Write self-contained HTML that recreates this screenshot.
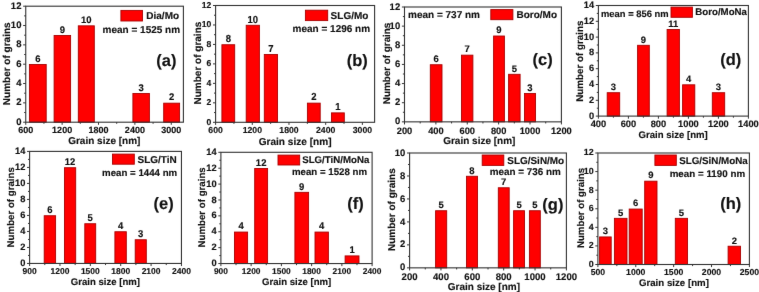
<!DOCTYPE html>
<html><head><meta charset="utf-8"><style>
html,body{margin:0;padding:0;background:#fff;}
body{width:759px;height:292px;overflow:hidden;}
svg{display:block;}

.t{fill:#111;stroke:#111;}
text.t{font-family:"Liberation Sans",sans-serif;font-weight:bold;stroke-width:0.15px;}
.bar{fill:#f00;stroke:#a80000;stroke-width:0.9;}
.fr{fill:none;stroke:#333;stroke-width:1.1;}
.tk{fill:none;stroke:#333;stroke-width:1;}
</style></head><body>
<svg width="759" height="292" viewBox="0 0 759 292">
<filter id="bl" x="0" y="0" width="759" height="292" filterUnits="userSpaceOnUse" color-interpolation-filters="sRGB"><feConvolveMatrix order="3" kernelMatrix="0.00276 0.04704 0.00276 0.04704 0.80077 0.04704 0.00276 0.04704 0.00276" edgeMode="duplicate"/></filter>
<defs></defs>
<g filter="url(#bl)">
<rect width="759" height="292" fill="#fff"/>
<rect x="29.4" y="64.5" width="16.8" height="57.7" class="bar"/>
<text class="t" transform="translate(37.8 61.8) skewX(0.1)" font-size="9.5" text-anchor="middle">6</text>
<rect x="54.1" y="35.5" width="16.5" height="86.7" class="bar"/>
<text class="t" transform="translate(62.35 32.8) skewX(0.1)" font-size="9.5" text-anchor="middle">9</text>
<rect x="78.3" y="25.83" width="16" height="96.37" class="bar"/>
<text class="t" transform="translate(86.3 23.13) skewX(0.1)" font-size="9.5" text-anchor="middle">10</text>
<rect x="132.9" y="93.5" width="16.5" height="28.7" class="bar"/>
<text class="t" transform="translate(141.15 90.8) skewX(0.1)" font-size="9.5" text-anchor="middle">3</text>
<rect x="163.7" y="103.17" width="15.9" height="19.03" class="bar"/>
<text class="t" transform="translate(171.65 100.47) skewX(0.1)" font-size="9.5" text-anchor="middle">2</text>
<rect x="25.75" y="6.2" width="157.65" height="116" class="fr"/>
<text class="t" transform="translate(21.45 124.81) skewX(0.1)" font-size="9.5" text-anchor="end">0</text>
<text class="t" transform="translate(21.45 105.48) skewX(0.1)" font-size="9.5" text-anchor="end">2</text>
<text class="t" transform="translate(21.45 86.14) skewX(0.1)" font-size="9.5" text-anchor="end">4</text>
<text class="t" transform="translate(21.45 66.81) skewX(0.1)" font-size="9.5" text-anchor="end">6</text>
<text class="t" transform="translate(21.45 47.48) skewX(0.1)" font-size="9.5" text-anchor="end">8</text>
<text class="t" transform="translate(21.45 28.14) skewX(0.1)" font-size="9.5" text-anchor="end">10</text>
<text class="t" transform="translate(21.45 8.81) skewX(0.1)" font-size="9.5" text-anchor="end">12</text>
<text class="t" transform="translate(25.75 132.72) skewX(0.1)" font-size="9.0" text-anchor="middle">600</text>
<text class="t" transform="translate(62.13 132.72) skewX(0.1)" font-size="9.0" text-anchor="middle">1200</text>
<text class="t" transform="translate(98.51 132.72) skewX(0.1)" font-size="9.0" text-anchor="middle">1800</text>
<text class="t" transform="translate(134.89 132.72) skewX(0.1)" font-size="9.0" text-anchor="middle">2400</text>
<text class="t" transform="translate(171.27 132.72) skewX(0.1)" font-size="9.0" text-anchor="middle">3000</text>
<path d="M23.15 122.2H25.75 M24.15 112.53H25.75 M23.15 102.87H25.75 M24.15 93.2H25.75 M23.15 83.53H25.75 M24.15 73.87H25.75 M23.15 64.2H25.75 M24.15 54.53H25.75 M23.15 44.87H25.75 M24.15 35.2H25.75 M23.15 25.53H25.75 M24.15 15.87H25.75 M23.15 6.2H25.75 M25.75 122.2V124.8 M43.94 122.2V123.8 M62.13 122.2V124.8 M80.32 122.2V123.8 M98.51 122.2V124.8 M116.7 122.2V123.8 M134.89 122.2V124.8 M153.08 122.2V123.8 M171.27 122.2V124.8" class="tk"/>
<rect x="120.9" y="10.4" width="21.6" height="10.6" class="bar"/>
<text class="t" transform="translate(146.3 19.2) skewX(0.1)" font-size="10.0" text-anchor="start">Dia/Mo</text>
<text class="t" transform="translate(180.1 33.2) skewX(0.1)" font-size="10.0" text-anchor="end">mean = 1525 nm</text>
<text class="t" transform="translate(166.35 66.4) skewX(0.1)" font-size="16.5" text-anchor="middle">(a)</text>
<text class="t" transform="translate(104.3 144.2) skewX(0.1)" font-size="10.0" text-anchor="middle">Grain size [nm]</text>
<text class="t yl" transform="translate(10.3 63.8) rotate(-90) skewX(0.1)" font-size="10.0" text-anchor="middle">Number of grains</text>
<rect x="221.9" y="44.73" width="12.8" height="77.57" class="bar"/>
<text class="t" transform="translate(228.3 42.03) scale(1 1.0700) skewX(0.1)" font-size="9.5" text-anchor="middle">8</text>
<rect x="246.2" y="25.27" width="13.2" height="97.03" class="bar"/>
<text class="t" transform="translate(252.8 22.57) scale(1 1.0700) skewX(0.1)" font-size="9.5" text-anchor="middle">10</text>
<rect x="264.3" y="54.47" width="13.2" height="67.83" class="bar"/>
<text class="t" transform="translate(270.9 51.77) scale(1 1.0700) skewX(0.1)" font-size="9.5" text-anchor="middle">7</text>
<rect x="307.4" y="103.13" width="12.8" height="19.17" class="bar"/>
<text class="t" transform="translate(313.8 100.43) scale(1 1.0700) skewX(0.1)" font-size="9.5" text-anchor="middle">2</text>
<rect x="331.5" y="112.87" width="12.8" height="9.43" class="bar"/>
<text class="t" transform="translate(337.9 110.17) scale(1 1.0700) skewX(0.1)" font-size="9.5" text-anchor="middle">1</text>
<rect x="215.6" y="5.5" width="159" height="116.8" class="fr"/>
<text class="t" transform="translate(211.3 124.6) skewX(0.1)" font-size="8.6" text-anchor="end">0</text>
<text class="t" transform="translate(211.3 105.13) skewX(0.1)" font-size="8.6" text-anchor="end">2</text>
<text class="t" transform="translate(211.3 85.67) skewX(0.1)" font-size="8.6" text-anchor="end">4</text>
<text class="t" transform="translate(211.3 66.2) skewX(0.1)" font-size="8.6" text-anchor="end">6</text>
<text class="t" transform="translate(211.3 46.73) skewX(0.1)" font-size="8.6" text-anchor="end">8</text>
<text class="t" transform="translate(211.3 27.27) skewX(0.1)" font-size="8.6" text-anchor="end">10</text>
<text class="t" transform="translate(211.3 7.8) skewX(0.1)" font-size="8.6" text-anchor="end">12</text>
<text class="t" transform="translate(215.6 133.41) skewX(0.1)" font-size="8.7" text-anchor="middle">600</text>
<text class="t" transform="translate(252.29 133.41) skewX(0.1)" font-size="8.7" text-anchor="middle">1200</text>
<text class="t" transform="translate(288.98 133.41) skewX(0.1)" font-size="8.7" text-anchor="middle">1800</text>
<text class="t" transform="translate(325.68 133.41) skewX(0.1)" font-size="8.7" text-anchor="middle">2400</text>
<text class="t" transform="translate(362.37 133.41) skewX(0.1)" font-size="8.7" text-anchor="middle">3000</text>
<path d="M213 122.3H215.6 M214 112.57H215.6 M213 102.83H215.6 M214 93.1H215.6 M213 83.37H215.6 M214 73.63H215.6 M213 63.9H215.6 M214 54.17H215.6 M213 44.43H215.6 M214 34.7H215.6 M213 24.97H215.6 M214 15.23H215.6 M213 5.5H215.6 M215.6 122.3V124.9 M233.95 122.3V123.9 M252.29 122.3V124.9 M270.64 122.3V123.9 M288.98 122.3V124.9 M307.33 122.3V123.9 M325.68 122.3V124.9 M344.02 122.3V123.9 M362.37 122.3V124.9" class="tk"/>
<rect x="305.4" y="10.2" width="22.3" height="10.4" class="bar"/>
<text class="t" transform="translate(330.6 18.8) skewX(0.1)" font-size="10.0" text-anchor="start">SLG/Mo</text>
<text class="t" transform="translate(370.1 31.9) skewX(0.1)" font-size="10.0" text-anchor="end">mean = 1296 nm</text>
<text class="t" transform="translate(357.3 66) skewX(0.1)" font-size="16.5" text-anchor="middle">(b)</text>
<text class="t" transform="translate(295.1 144.8) skewX(0.1)" font-size="10.1" text-anchor="middle">Grain size [nm]</text>
<text class="t yl" transform="translate(200.7 63.1) rotate(-90) skewX(0.1)" font-size="10.0" text-anchor="middle">Number of grains</text>
<rect x="430.3" y="64.73" width="11.7" height="57.12" class="bar"/>
<text class="t" transform="translate(436.15 62.03) skewX(0.1)" font-size="9.5" text-anchor="middle">6</text>
<rect x="461.5" y="55.15" width="11.4" height="66.7" class="bar"/>
<text class="t" transform="translate(467.2 52.45) skewX(0.1)" font-size="9.5" text-anchor="middle">7</text>
<rect x="493.6" y="36.01" width="10.8" height="85.84" class="bar"/>
<text class="t" transform="translate(499 33.31) skewX(0.1)" font-size="9.5" text-anchor="middle">9</text>
<rect x="508.6" y="74.3" width="11.5" height="47.55" class="bar"/>
<text class="t" transform="translate(514.35 71.6) skewX(0.1)" font-size="9.5" text-anchor="middle">5</text>
<rect x="524.5" y="93.44" width="11" height="28.41" class="bar"/>
<text class="t" transform="translate(530 90.74) skewX(0.1)" font-size="9.5" text-anchor="middle">3</text>
<rect x="404.5" y="7" width="156.9" height="114.85" class="fr"/>
<text class="t" transform="translate(400.2 124.46) skewX(0.1)" font-size="9.5" text-anchor="end">0</text>
<text class="t" transform="translate(400.2 105.32) skewX(0.1)" font-size="9.5" text-anchor="end">2</text>
<text class="t" transform="translate(400.2 86.18) skewX(0.1)" font-size="9.5" text-anchor="end">4</text>
<text class="t" transform="translate(400.2 67.03) skewX(0.1)" font-size="9.5" text-anchor="end">6</text>
<text class="t" transform="translate(400.2 47.89) skewX(0.1)" font-size="9.5" text-anchor="end">8</text>
<text class="t" transform="translate(400.2 28.75) skewX(0.1)" font-size="9.5" text-anchor="end">10</text>
<text class="t" transform="translate(400.2 9.61) skewX(0.1)" font-size="9.5" text-anchor="end">12</text>
<text class="t" transform="translate(404.5 133.68) skewX(0.1)" font-size="9.3" text-anchor="middle">200</text>
<text class="t" transform="translate(435.88 133.68) skewX(0.1)" font-size="9.3" text-anchor="middle">400</text>
<text class="t" transform="translate(467.26 133.68) skewX(0.1)" font-size="9.3" text-anchor="middle">600</text>
<text class="t" transform="translate(498.64 133.68) skewX(0.1)" font-size="9.3" text-anchor="middle">800</text>
<text class="t" transform="translate(530.02 133.68) skewX(0.1)" font-size="9.3" text-anchor="middle">1000</text>
<text class="t" transform="translate(561.4 133.68) skewX(0.1)" font-size="9.3" text-anchor="middle">1200</text>
<path d="M401.9 121.85H404.5 M402.9 112.28H404.5 M401.9 102.71H404.5 M402.9 93.14H404.5 M401.9 83.57H404.5 M402.9 74H404.5 M401.9 64.43H404.5 M402.9 54.85H404.5 M401.9 45.28H404.5 M402.9 35.71H404.5 M401.9 26.14H404.5 M402.9 16.57H404.5 M401.9 7H404.5 M404.5 121.85V124.45 M420.19 121.85V123.45 M435.88 121.85V124.45 M451.57 121.85V123.45 M467.26 121.85V124.45 M482.95 121.85V123.45 M498.64 121.85V124.45 M514.33 121.85V123.45 M530.02 121.85V124.45 M545.71 121.85V123.45 M561.4 121.85V124.45" class="tk"/>
<rect x="490.8" y="9.6" width="22.1" height="10.1" class="bar"/>
<text class="t" transform="translate(516.5 18.1) skewX(0.1)" font-size="10.0" text-anchor="start">Boro/Mo</text>
<text class="t" transform="translate(408 17.8) skewX(0.1)" font-size="10.0" text-anchor="start">mean = 737 nm</text>
<text class="t" transform="translate(542.7 64.8) skewX(0.1)" font-size="16.5" text-anchor="middle">(c)</text>
<text class="t" transform="translate(479.3 144.2) skewX(0.1)" font-size="10.0" text-anchor="middle">Grain size [nm]</text>
<text class="t yl" transform="translate(389.9 63.4) rotate(-90) skewX(0.1)" font-size="9.85" text-anchor="middle">Number of grains</text>
<rect x="607.2" y="92.7" width="12.5" height="23.4" class="bar"/>
<text class="t" transform="translate(613.45 90) scale(1 0.9700) skewX(0.1)" font-size="9.5" text-anchor="middle">3</text>
<rect x="637.6" y="45.3" width="11.7" height="70.8" class="bar"/>
<text class="t" transform="translate(643.45 42.6) scale(1 0.9700) skewX(0.1)" font-size="9.5" text-anchor="middle">9</text>
<rect x="667.1" y="29.5" width="12.3" height="86.6" class="bar"/>
<text class="t" transform="translate(673.25 26.8) scale(1 0.9700) skewX(0.1)" font-size="9.5" text-anchor="middle">11</text>
<rect x="682.6" y="84.8" width="12.2" height="31.3" class="bar"/>
<text class="t" transform="translate(688.7 82.1) scale(1 0.9700) skewX(0.1)" font-size="9.5" text-anchor="middle">4</text>
<rect x="712.3" y="92.7" width="12.4" height="23.4" class="bar"/>
<text class="t" transform="translate(718.5 90) scale(1 0.9700) skewX(0.1)" font-size="9.5" text-anchor="middle">3</text>
<rect x="598.4" y="5.5" width="150" height="110.6" class="fr"/>
<text class="t" transform="translate(594.1 118.64) skewX(0.1)" font-size="9.3" text-anchor="end">0</text>
<text class="t" transform="translate(594.1 102.84) skewX(0.1)" font-size="9.3" text-anchor="end">2</text>
<text class="t" transform="translate(594.1 87.04) skewX(0.1)" font-size="9.3" text-anchor="end">4</text>
<text class="t" transform="translate(594.1 71.24) skewX(0.1)" font-size="9.3" text-anchor="end">6</text>
<text class="t" transform="translate(594.1 55.44) skewX(0.1)" font-size="9.3" text-anchor="end">8</text>
<text class="t" transform="translate(594.1 39.64) skewX(0.1)" font-size="9.3" text-anchor="end">10</text>
<text class="t" transform="translate(594.1 23.84) skewX(0.1)" font-size="9.3" text-anchor="end">12</text>
<text class="t" transform="translate(594.1 8.04) skewX(0.1)" font-size="9.3" text-anchor="end">14</text>
<text class="t" transform="translate(598.4 127.13) skewX(0.1)" font-size="9.3" text-anchor="middle">400</text>
<text class="t" transform="translate(628.4 127.13) skewX(0.1)" font-size="9.3" text-anchor="middle">600</text>
<text class="t" transform="translate(658.4 127.13) skewX(0.1)" font-size="9.3" text-anchor="middle">800</text>
<text class="t" transform="translate(688.4 127.13) skewX(0.1)" font-size="9.3" text-anchor="middle">1000</text>
<text class="t" transform="translate(718.4 127.13) skewX(0.1)" font-size="9.3" text-anchor="middle">1200</text>
<text class="t" transform="translate(748.4 127.13) skewX(0.1)" font-size="9.3" text-anchor="middle">1400</text>
<path d="M595.8 116.1H598.4 M596.8 108.2H598.4 M595.8 100.3H598.4 M596.8 92.4H598.4 M595.8 84.5H598.4 M596.8 76.6H598.4 M595.8 68.7H598.4 M596.8 60.8H598.4 M595.8 52.9H598.4 M596.8 45H598.4 M595.8 37.1H598.4 M596.8 29.2H598.4 M595.8 21.3H598.4 M596.8 13.4H598.4 M595.8 5.5H598.4 M598.4 116.1V118.7 M613.4 116.1V117.7 M628.4 116.1V118.7 M643.4 116.1V117.7 M658.4 116.1V118.7 M673.4 116.1V117.7 M688.4 116.1V118.7 M703.4 116.1V117.7 M718.4 116.1V118.7 M733.4 116.1V117.7 M748.4 116.1V118.7" class="tk"/>
<rect x="671" y="7.1" width="21.4" height="10.2" class="bar"/>
<text class="t" transform="translate(695.3 15.1) skewX(0.1)" font-size="9.7" text-anchor="start">Boro/MoNa</text>
<text class="t" transform="translate(601 16.6) skewX(0.1)" font-size="9.4" text-anchor="start">mean = 856 nm</text>
<text class="t" transform="translate(730.7 65) skewX(0.1)" font-size="16.5" text-anchor="middle">(d)</text>
<text class="t" transform="translate(673.15 137.6) skewX(0.1)" font-size="9.6" text-anchor="middle">Grain size [nm]</text>
<text class="t yl" transform="translate(582.5 61.2) rotate(-90) skewX(0.1)" font-size="9.8" text-anchor="middle">Number of grains</text>
<rect x="44.2" y="215.73" width="11.4" height="47.72" class="bar"/>
<text class="t" transform="translate(49.9 213.03) scale(1 1.0300) skewX(0.1)" font-size="9.5" text-anchor="middle">6</text>
<rect x="64.5" y="167.71" width="11.2" height="95.74" class="bar"/>
<text class="t" transform="translate(70.1 165.01) scale(1 1.0300) skewX(0.1)" font-size="9.5" text-anchor="middle">12</text>
<rect x="84.8" y="223.73" width="10.9" height="39.72" class="bar"/>
<text class="t" transform="translate(90.25 221.03) scale(1 1.0300) skewX(0.1)" font-size="9.5" text-anchor="middle">5</text>
<rect x="114.9" y="231.74" width="11.4" height="31.71" class="bar"/>
<text class="t" transform="translate(120.6 229.04) scale(1 1.0300) skewX(0.1)" font-size="9.5" text-anchor="middle">4</text>
<rect x="135.2" y="239.74" width="11.1" height="23.71" class="bar"/>
<text class="t" transform="translate(140.75 237.04) scale(1 1.0300) skewX(0.1)" font-size="9.5" text-anchor="middle">3</text>
<rect x="29.6" y="151.4" width="151.85" height="112.05" class="fr"/>
<text class="t" transform="translate(25.3 265.99) skewX(0.1)" font-size="9.3" text-anchor="end">0</text>
<text class="t" transform="translate(25.3 249.98) skewX(0.1)" font-size="9.3" text-anchor="end">2</text>
<text class="t" transform="translate(25.3 233.98) skewX(0.1)" font-size="9.3" text-anchor="end">4</text>
<text class="t" transform="translate(25.3 217.97) skewX(0.1)" font-size="9.3" text-anchor="end">6</text>
<text class="t" transform="translate(25.3 201.96) skewX(0.1)" font-size="9.3" text-anchor="end">8</text>
<text class="t" transform="translate(25.3 185.95) skewX(0.1)" font-size="9.3" text-anchor="end">10</text>
<text class="t" transform="translate(25.3 169.95) skewX(0.1)" font-size="9.3" text-anchor="end">12</text>
<text class="t" transform="translate(25.3 153.94) skewX(0.1)" font-size="9.3" text-anchor="end">14</text>
<text class="t" transform="translate(29.6 273.62) skewX(0.1)" font-size="8.5" text-anchor="middle">900</text>
<text class="t" transform="translate(59.97 273.62) skewX(0.1)" font-size="8.5" text-anchor="middle">1200</text>
<text class="t" transform="translate(90.34 273.62) skewX(0.1)" font-size="8.5" text-anchor="middle">1500</text>
<text class="t" transform="translate(120.71 273.62) skewX(0.1)" font-size="8.5" text-anchor="middle">1800</text>
<text class="t" transform="translate(151.08 273.62) skewX(0.1)" font-size="8.5" text-anchor="middle">2100</text>
<text class="t" transform="translate(181.45 273.62) skewX(0.1)" font-size="8.5" text-anchor="middle">2400</text>
<path d="M27 263.45H29.6 M28 255.45H29.6 M27 247.44H29.6 M28 239.44H29.6 M27 231.44H29.6 M28 223.43H29.6 M27 215.43H29.6 M28 207.43H29.6 M27 199.42H29.6 M28 191.42H29.6 M27 183.41H29.6 M28 175.41H29.6 M27 167.41H29.6 M28 159.4H29.6 M27 151.4H29.6 M29.6 263.45V266.05 M44.79 263.45V265.05 M59.97 263.45V266.05 M75.16 263.45V265.05 M90.34 263.45V266.05 M105.53 263.45V265.05 M120.71 263.45V266.05 M135.9 263.45V265.05 M151.08 263.45V266.05 M166.26 263.45V265.05 M181.45 263.45V266.05" class="tk"/>
<rect x="112.5" y="154.1" width="21.8" height="10.1" class="bar"/>
<text class="t" transform="translate(137.5 162.8) skewX(0.1)" font-size="10.0" text-anchor="start">SLG/TiN</text>
<text class="t" transform="translate(177.2 175.5) skewX(0.1)" font-size="9.7" text-anchor="end">mean = 1444 nm</text>
<text class="t" transform="translate(163.65 209.4) skewX(0.1)" font-size="16.5" text-anchor="middle">(e)</text>
<text class="t" transform="translate(105.4 284.8) skewX(0.1)" font-size="9.6" text-anchor="middle">Grain size [nm]</text>
<text class="t yl" transform="translate(13.5 207.3) rotate(-90) skewX(0.1)" font-size="9.7" text-anchor="middle">Number of grains</text>
<rect x="234.5" y="232.06" width="13.1" height="31.49" class="bar"/>
<text class="t" transform="translate(241.05 229.36) scale(1 1.0300) skewX(0.1)" font-size="9.5" text-anchor="middle">4</text>
<rect x="254.7" y="168.49" width="12.9" height="95.06" class="bar"/>
<text class="t" transform="translate(261.15 165.79) scale(1 1.0300) skewX(0.1)" font-size="9.5" text-anchor="middle">12</text>
<rect x="294.9" y="192.33" width="13.7" height="71.22" class="bar"/>
<text class="t" transform="translate(301.75 189.63) scale(1 1.0300) skewX(0.1)" font-size="9.5" text-anchor="middle">9</text>
<rect x="315" y="232.06" width="13.4" height="31.49" class="bar"/>
<text class="t" transform="translate(321.7 229.36) scale(1 1.0300) skewX(0.1)" font-size="9.5" text-anchor="middle">4</text>
<rect x="345.1" y="255.9" width="13.9" height="7.65" class="bar"/>
<text class="t" transform="translate(352.05 253.2) scale(1 1.0300) skewX(0.1)" font-size="9.5" text-anchor="middle">1</text>
<rect x="220.9" y="152.3" width="151.2" height="111.25" class="fr"/>
<text class="t" transform="translate(216.6 266.09) skewX(0.1)" font-size="9.3" text-anchor="end">0</text>
<text class="t" transform="translate(216.6 250.2) skewX(0.1)" font-size="9.3" text-anchor="end">2</text>
<text class="t" transform="translate(216.6 234.3) skewX(0.1)" font-size="9.3" text-anchor="end">4</text>
<text class="t" transform="translate(216.6 218.41) skewX(0.1)" font-size="9.3" text-anchor="end">6</text>
<text class="t" transform="translate(216.6 202.52) skewX(0.1)" font-size="9.3" text-anchor="end">8</text>
<text class="t" transform="translate(216.6 186.63) skewX(0.1)" font-size="9.3" text-anchor="end">10</text>
<text class="t" transform="translate(216.6 170.73) skewX(0.1)" font-size="9.3" text-anchor="end">12</text>
<text class="t" transform="translate(216.6 154.84) skewX(0.1)" font-size="9.3" text-anchor="end">14</text>
<text class="t" transform="translate(220.9 274.15) skewX(0.1)" font-size="8.4" text-anchor="middle">900</text>
<text class="t" transform="translate(251.14 274.15) skewX(0.1)" font-size="8.4" text-anchor="middle">1200</text>
<text class="t" transform="translate(281.38 274.15) skewX(0.1)" font-size="8.4" text-anchor="middle">1500</text>
<text class="t" transform="translate(311.62 274.15) skewX(0.1)" font-size="8.4" text-anchor="middle">1800</text>
<text class="t" transform="translate(341.86 274.15) skewX(0.1)" font-size="8.4" text-anchor="middle">2100</text>
<text class="t" transform="translate(372.1 274.15) skewX(0.1)" font-size="8.4" text-anchor="middle">2400</text>
<path d="M218.3 263.55H220.9 M219.3 255.6H220.9 M218.3 247.66H220.9 M219.3 239.71H220.9 M218.3 231.76H220.9 M219.3 223.82H220.9 M218.3 215.87H220.9 M219.3 207.93H220.9 M218.3 199.98H220.9 M219.3 192.03H220.9 M218.3 184.09H220.9 M219.3 176.14H220.9 M218.3 168.19H220.9 M219.3 160.25H220.9 M218.3 152.3H220.9 M220.9 263.55V266.15 M236.02 263.55V265.15 M251.14 263.55V266.15 M266.26 263.55V265.15 M281.38 263.55V266.15 M296.5 263.55V265.15 M311.62 263.55V266.15 M326.74 263.55V265.15 M341.86 263.55V266.15 M356.98 263.55V265.15 M372.1 263.55V266.15" class="tk"/>
<rect x="278" y="155.1" width="21.7" height="9.9" class="bar"/>
<text class="t" transform="translate(302.2 163.1) skewX(0.1)" font-size="9.7" text-anchor="start">SLG/TiN/MoNa</text>
<text class="t" transform="translate(367.1 174.7) skewX(0.1)" font-size="9.7" text-anchor="end">mean = 1528 nm</text>
<text class="t" transform="translate(355.4 209) skewX(0.1)" font-size="16.5" text-anchor="middle">(f)</text>
<text class="t" transform="translate(296.6 284.8) skewX(0.1)" font-size="9.6" text-anchor="middle">Grain size [nm]</text>
<text class="t yl" transform="translate(204.5 207.4) rotate(-90) skewX(0.1)" font-size="9.7" text-anchor="middle">Number of grains</text>
<rect x="435.6" y="210.73" width="11.1" height="57.13" class="bar"/>
<text class="t" transform="translate(441.15 208.03) skewX(0.1)" font-size="9.5" text-anchor="middle">5</text>
<rect x="466.5" y="176.27" width="11" height="91.58" class="bar"/>
<text class="t" transform="translate(472 173.57) skewX(0.1)" font-size="9.5" text-anchor="middle">8</text>
<rect x="498.3" y="187.76" width="10.9" height="80.1" class="bar"/>
<text class="t" transform="translate(503.75 185.06) skewX(0.1)" font-size="9.5" text-anchor="middle">7</text>
<rect x="513.6" y="210.73" width="10.9" height="57.13" class="bar"/>
<text class="t" transform="translate(519.05 208.03) skewX(0.1)" font-size="9.5" text-anchor="middle">5</text>
<rect x="529.4" y="210.73" width="10.9" height="57.13" class="bar"/>
<text class="t" transform="translate(534.85 208.03) skewX(0.1)" font-size="9.5" text-anchor="middle">5</text>
<rect x="409.6" y="153" width="156.8" height="114.85" class="fr"/>
<text class="t" transform="translate(405.3 270.46) skewX(0.1)" font-size="9.5" text-anchor="end">0</text>
<text class="t" transform="translate(405.3 247.49) skewX(0.1)" font-size="9.5" text-anchor="end">2</text>
<text class="t" transform="translate(405.3 224.52) skewX(0.1)" font-size="9.5" text-anchor="end">4</text>
<text class="t" transform="translate(405.3 201.55) skewX(0.1)" font-size="9.5" text-anchor="end">6</text>
<text class="t" transform="translate(405.3 178.58) skewX(0.1)" font-size="9.5" text-anchor="end">8</text>
<text class="t" transform="translate(405.3 155.61) skewX(0.1)" font-size="9.5" text-anchor="end">10</text>
<text class="t" transform="translate(409.6 279.69) skewX(0.1)" font-size="9.6" text-anchor="middle">200</text>
<text class="t" transform="translate(440.96 279.69) skewX(0.1)" font-size="9.6" text-anchor="middle">400</text>
<text class="t" transform="translate(472.32 279.69) skewX(0.1)" font-size="9.6" text-anchor="middle">600</text>
<text class="t" transform="translate(503.68 279.69) skewX(0.1)" font-size="9.6" text-anchor="middle">800</text>
<text class="t" transform="translate(535.04 279.69) skewX(0.1)" font-size="9.6" text-anchor="middle">1000</text>
<text class="t" transform="translate(566.4 279.69) skewX(0.1)" font-size="9.6" text-anchor="middle">1200</text>
<path d="M407 267.85H409.6 M408 256.37H409.6 M407 244.88H409.6 M408 233.4H409.6 M407 221.91H409.6 M408 210.43H409.6 M407 198.94H409.6 M408 187.46H409.6 M407 175.97H409.6 M408 164.49H409.6 M407 153H409.6 M409.6 267.85V270.45 M425.28 267.85V269.45 M440.96 267.85V270.45 M456.64 267.85V269.45 M472.32 267.85V270.45 M488 267.85V269.45 M503.68 267.85V270.45 M519.36 267.85V269.45 M535.04 267.85V270.45 M550.72 267.85V269.45 M566.4 267.85V270.45" class="tk"/>
<rect x="482.2" y="155" width="21.6" height="10.4" class="bar"/>
<text class="t" transform="translate(507.3 163.9) skewX(0.1)" font-size="9.95" text-anchor="start">SLG/SiN/Mo</text>
<text class="t" transform="translate(560.9 175) skewX(0.1)" font-size="9.9" text-anchor="end">mean = 736 nm</text>
<text class="t" transform="translate(552.9 209.5) skewX(0.1)" font-size="16.5" text-anchor="middle">(g)</text>
<text class="t" transform="translate(483.9 289.5) skewX(0.1)" font-size="10.0" text-anchor="middle">Grain size [nm]</text>
<text class="t yl" transform="translate(395.3 209.7) rotate(-90) skewX(0.1)" font-size="10.0" text-anchor="middle">Number of grains</text>
<rect x="599.6" y="236.93" width="11.6" height="27.57" class="bar"/>
<text class="t" transform="translate(605.4 234.22) scale(1 0.9700) skewX(0.1)" font-size="9.5" text-anchor="middle">3</text>
<rect x="614.4" y="218.34" width="12.6" height="46.16" class="bar"/>
<text class="t" transform="translate(620.7 215.64) scale(1 0.9700) skewX(0.1)" font-size="9.5" text-anchor="middle">5</text>
<rect x="629.2" y="209.05" width="13" height="55.45" class="bar"/>
<text class="t" transform="translate(635.7 206.35) scale(1 0.9700) skewX(0.1)" font-size="9.5" text-anchor="middle">6</text>
<rect x="644.7" y="181.18" width="12.3" height="83.33" class="bar"/>
<text class="t" transform="translate(650.85 178.47) scale(1 0.9700) skewX(0.1)" font-size="9.5" text-anchor="middle">9</text>
<rect x="675.3" y="218.34" width="12.2" height="46.16" class="bar"/>
<text class="t" transform="translate(681.4 215.64) scale(1 0.9700) skewX(0.1)" font-size="9.5" text-anchor="middle">5</text>
<rect x="728.1" y="246.22" width="12.4" height="18.28" class="bar"/>
<text class="t" transform="translate(734.3 243.52) scale(1 0.9700) skewX(0.1)" font-size="9.5" text-anchor="middle">2</text>
<rect x="597.9" y="153" width="151.5" height="111.5" class="fr"/>
<text class="t" transform="translate(593.6 266.9) skewX(0.1)" font-size="8.9" text-anchor="end">0</text>
<text class="t" transform="translate(593.6 248.32) skewX(0.1)" font-size="8.9" text-anchor="end">2</text>
<text class="t" transform="translate(593.6 229.74) skewX(0.1)" font-size="8.9" text-anchor="end">4</text>
<text class="t" transform="translate(593.6 211.15) skewX(0.1)" font-size="8.9" text-anchor="end">6</text>
<text class="t" transform="translate(593.6 192.57) skewX(0.1)" font-size="8.9" text-anchor="end">8</text>
<text class="t" transform="translate(593.6 173.99) skewX(0.1)" font-size="8.9" text-anchor="end">10</text>
<text class="t" transform="translate(593.6 155.4) skewX(0.1)" font-size="8.9" text-anchor="end">12</text>
<text class="t" transform="translate(597.9 275.01) skewX(0.1)" font-size="8.7" text-anchor="middle">500</text>
<text class="t" transform="translate(635.77 275.01) skewX(0.1)" font-size="8.7" text-anchor="middle">1000</text>
<text class="t" transform="translate(673.65 275.01) skewX(0.1)" font-size="8.7" text-anchor="middle">1500</text>
<text class="t" transform="translate(711.52 275.01) skewX(0.1)" font-size="8.7" text-anchor="middle">2000</text>
<text class="t" transform="translate(749.4 275.01) skewX(0.1)" font-size="8.7" text-anchor="middle">2500</text>
<path d="M595.3 264.5H597.9 M596.3 255.21H597.9 M595.3 245.92H597.9 M596.3 236.62H597.9 M595.3 227.33H597.9 M596.3 218.04H597.9 M595.3 208.75H597.9 M596.3 199.46H597.9 M595.3 190.17H597.9 M596.3 180.88H597.9 M595.3 171.58H597.9 M596.3 162.29H597.9 M595.3 153H597.9 M597.9 264.5V267.1 M616.84 264.5V266.1 M635.77 264.5V267.1 M654.71 264.5V266.1 M673.65 264.5V267.1 M692.59 264.5V266.1 M711.52 264.5V267.1 M730.46 264.5V266.1 M749.4 264.5V267.1" class="tk"/>
<rect x="654.9" y="155" width="21.4" height="10.4" class="bar"/>
<text class="t" transform="translate(679.2 164.2) skewX(0.1)" font-size="9.8" text-anchor="start">SLG/SiN/MoNa</text>
<text class="t" transform="translate(745.1 177) skewX(0.1)" font-size="9.8" text-anchor="end">mean = 1190 nm</text>
<text class="t" transform="translate(730.75 209.4) skewX(0.1)" font-size="16.5" text-anchor="middle">(h)</text>
<text class="t" transform="translate(673.9 285.6) skewX(0.1)" font-size="9.7" text-anchor="middle">Grain size [nm]</text>
<text class="t yl" transform="translate(583.5 207.95) rotate(-90) skewX(0.1)" font-size="9.7" text-anchor="middle">Number of grains</text>
</g>
</svg>
</body></html>
